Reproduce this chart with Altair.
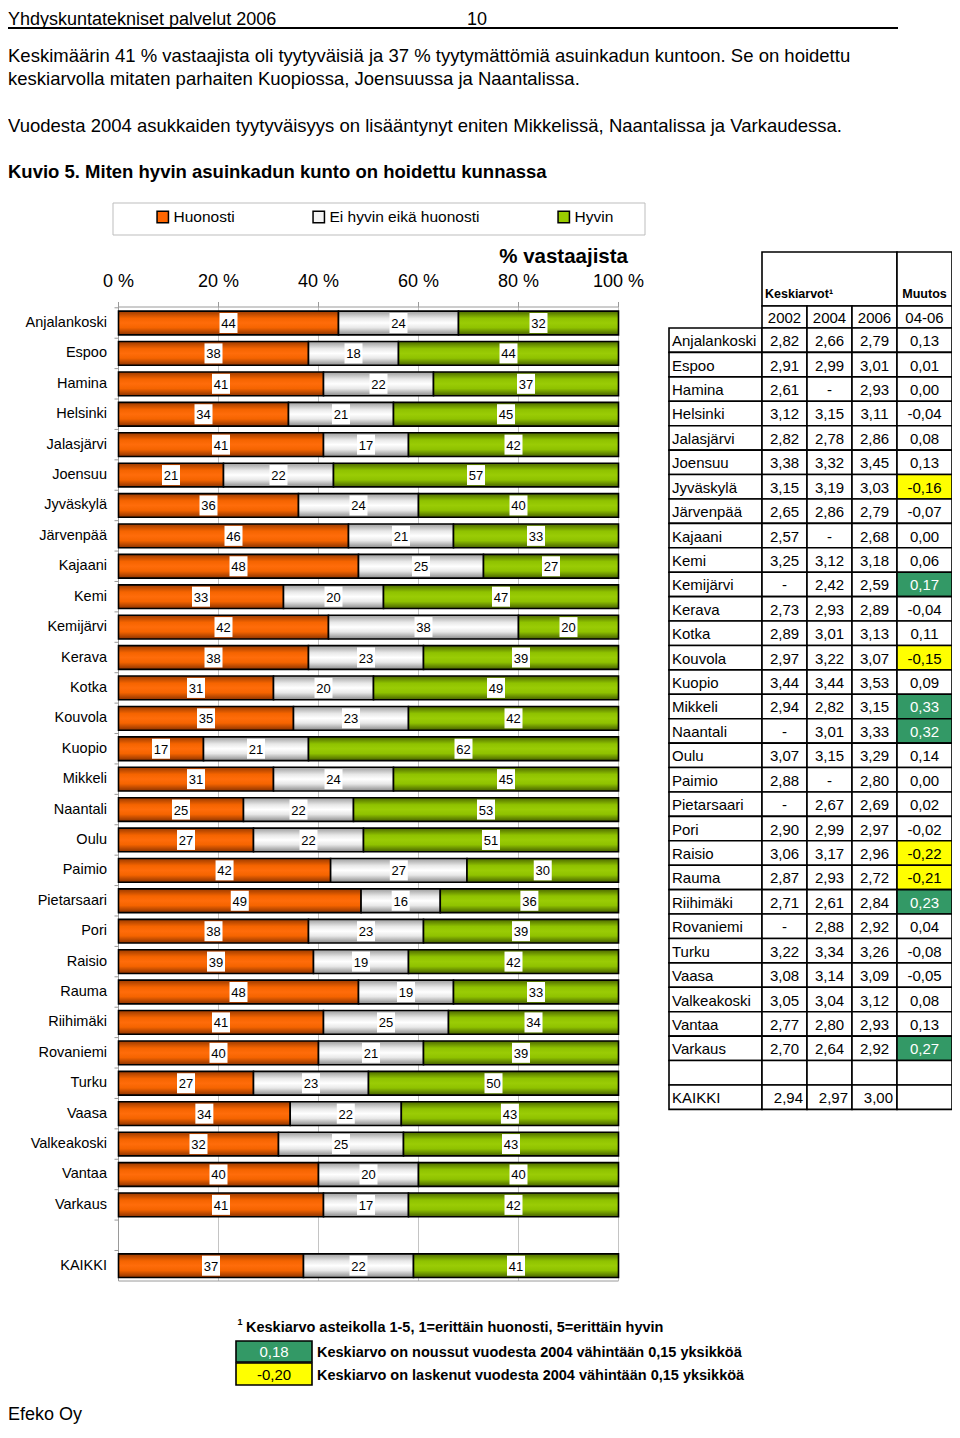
import altair as alt
import pandas as pd

# ---------------- data ----------------
CITIES = ["Anjalankoski", "Espoo", "Hamina", "Helsinki", "Jalasjärvi", "Joensuu", "Jyväskylä",
          "Järvenpää", "Kajaani", "Kemi", "Kemijärvi", "Kerava", "Kotka", "Kouvola", "Kuopio",
          "Mikkeli", "Naantali", "Oulu", "Paimio", "Pietarsaari", "Pori", "Raisio", "Rauma",
          "Riihimäki", "Rovaniemi", "Turku", "Vaasa", "Valkeakoski", "Vantaa", "Varkaus"]
TOTAL_LABEL = "KAIKKI"
CATEGORIES = ["Huonosti", "Ei hyvin eikä huonosti", "Hyvin"]
HUONOSTI = [44, 38, 41, 34, 41, 21, 36, 46, 48, 33, 42, 38, 31, 35, 17, 31, 25, 27, 42, 49,
            38, 39, 48, 41, 40, 27, 34, 32, 40, 41]
NEUTRAALI = [24, 18, 22, 21, 17, 22, 24, 21, 25, 20, 38, 23, 20, 23, 21, 24, 22, 22, 27, 16,
             23, 19, 19, 25, 21, 23, 22, 25, 20, 17]
HYVIN = [32, 44, 37, 45, 42, 57, 40, 33, 27, 47, 20, 39, 49, 42, 62, 45, 53, 51, 30, 36,
         39, 42, 33, 34, 39, 50, 43, 43, 40, 42]
TOTAL_SHARES = [37, 22, 41]
TICKS = [0, 20, 40, 60, 80, 100]
TICK_LABELS = ["0 %", "20 %", "40 %", "60 %", "80 %", "100 %"]

Y2002 = [2.82, 2.91, 2.61, 3.12, 2.82, 3.38, 3.15, 2.65, 2.57, 3.25, None, 2.73, 2.89, 2.97, 3.44,
         2.94, None, 3.07, 2.88, None, 2.90, 3.06, 2.87, 2.71, None, 3.22, 3.08, 3.05, 2.77, 2.70]
Y2004 = [2.66, 2.99, None, 3.15, 2.78, 3.32, 3.19, 2.86, None, 3.12, 2.42, 2.93, 3.01, 3.22, 3.44,
         2.82, 3.01, 3.15, None, 2.67, 2.99, 3.17, 2.93, 2.61, 2.88, 3.34, 3.14, 3.04, 2.80, 2.64]
Y2006 = [2.79, 3.01, 2.93, 3.11, 2.86, 3.45, 3.03, 2.79, 2.68, 3.18, 2.59, 2.89, 3.13, 3.07, 3.53,
         3.15, 3.33, 3.29, 2.80, 2.69, 2.97, 2.96, 2.72, 2.84, 2.92, 3.26, 3.09, 3.12, 2.93, 2.92]
MUUTOS = [0.13, 0.01, 0.00, -0.04, 0.08, 0.13, -0.16, -0.07, 0.00, 0.06, 0.17, -0.04, 0.11, -0.15,
          0.09, 0.33, 0.32, 0.14, 0.00, 0.02, -0.02, -0.22, -0.21, 0.23, 0.04, -0.08, -0.05, 0.08,
          0.13, 0.27]
TOTAL_MEANS = [2.94, 2.97, 3.00]
YEARS = ["2002", "2004", "2006", "04-06"]

# ---------------- layout ----------------
OFF = 8
def P(v):  # page pixel -> view pixel
    return v - OFF

SANS = "Liberation Sans, Arial, sans-serif"
W, H = 944, 1416

BAR_ROWS = CITIES + [" ", TOTAL_LABEL]
XS = alt.Scale(domain=[0, 100], range=[P(118.5), P(618.5)], nice=False, zero=False)
YS = alt.Scale(domain=BAR_ROWS, range=[P(307.8), P(1280.9)], paddingInner=0.22, paddingOuter=0.11)

# ---------------- bar data ----------------
rows = []
for c, a, b, d in zip(CITIES + [TOTAL_LABEL], HUONOSTI + [TOTAL_SHARES[0]],
                      NEUTRAALI + [TOTAL_SHARES[1]], HYVIN + [TOTAL_SHARES[2]]):
    for i, (k, v) in enumerate(zip(CATEGORIES, [a, b, d])):
        rows.append({"city": c, "cat": k, "order": i, "value": v})
bar_df = pd.DataFrame(rows)

base = alt.Chart(bar_df).transform_stack(
    stack="value", groupby=["city"], as_=["lo", "hi"], offset="normalize",
    sort=[alt.SortField("order", order="ascending")]
).transform_calculate(
    lo100="datum.lo*100", hi100="datum.hi*100", mid="(datum.lo+datum.hi)*50",
    bl="(datum.lo+datum.hi)*50-1.8", br="(datum.lo+datum.hi)*50+1.8"
)

ENC_Y = alt.Y("city:N", scale=YS, axis=None)

legend_bars = base.mark_bar().encode(
    x=alt.X("lo100:Q", scale=XS, axis=None), x2="hi100:Q", y=ENC_Y,
    color=alt.Color("cat:N", scale=alt.Scale(domain=CATEGORIES, range=["#FF6600", "#F4F4F4", "#99CC00"]),
                    legend=alt.Legend(title=None, orient="none", legendX=P(155), legendY=P(209),
                                      direction="horizontal", symbolType="square", symbolSize=130,
                                      symbolStrokeColor="black", symbolStrokeWidth=1.5,
                                      labelFont=SANS, labelFontSize=15.5, labelColor="black",
                                      labelLimit=400, columnPadding=75, labelOffset=3, padding=0,
                                      symbolOpacity=1))
)

def grad(edge1, mid1, mid, edge2):
    return {"gradient": "linear", "x1": 0, "x2": 0, "y1": 0, "y2": 1,
            "stops": [{"offset": 0, "color": edge1}, {"offset": 0.3, "color": mid1},
                      {"offset": 0.5, "color": mid}, {"offset": 0.7, "color": mid1},
                      {"offset": 1, "color": edge2}]}

GRADS = [grad("#9A3A00", "#F56400", "#FF6C0A", "#8C3300"),
         grad("#9C9C9C", "#E8E8E8", "#FFFFFF", "#8A8A8A"),
         grad("#4C6800", "#8FC200", "#9ACC05", "#466000")]

grad_layers = []
for k, g in zip(CATEGORIES, GRADS):
    grad_layers.append(
        base.transform_filter(alt.datum.cat == k).mark_bar(fill=g, stroke="black", strokeWidth=1.6).encode(
            x=alt.X("lo100:Q", scale=XS, axis=None), x2="hi100:Q", y=ENC_Y)
    )

label_boxes = base.mark_bar(color="white", height=20).encode(
    x=alt.X("bl:Q", scale=XS, axis=None), x2="br:Q", y=ENC_Y)
label_text = base.mark_text(font=SANS, fontSize=13, color="black", baseline="middle", dy=1).encode(
    x=alt.X("mid:Q", scale=XS, axis=None), y=ENC_Y, text=alt.Text("value:Q"))

# axes drawn from the scales
tick_df = pd.DataFrame({"v": TICKS, "label": TICK_LABELS})
grid = alt.Chart(tick_df).transform_filter(alt.datum.v > 0).mark_rule(color="#C4C4C4", strokeWidth=1).encode(
    x=alt.X("v:Q", scale=XS, axis=None), y=alt.value(P(307)), y2=alt.value(P(1281)))
top_ticks = alt.Chart(tick_df).mark_rule(color="#9A9A9A", strokeWidth=1).encode(
    x=alt.X("v:Q", scale=XS, axis=None), y=alt.value(P(302)), y2=alt.value(P(307)))
tick_labels = alt.Chart(tick_df).mark_text(font=SANS, fontSize=18, color="black", baseline="alphabetic").encode(
    x=alt.X("v:Q", scale=XS, axis=None), y=alt.value(P(287)), text="label:N")
span_df = pd.DataFrame({"a": [0], "b": [100]})
top_line = alt.Chart(span_df).mark_rule(color="#9A9A9A", strokeWidth=1).encode(
    x=alt.X("a:Q", scale=XS, axis=None), x2="b:Q", y=alt.value(P(307)))
bottom_line = alt.Chart(span_df).mark_rule(color="#9A9A9A", strokeWidth=1).encode(
    x=alt.X("a:Q", scale=XS, axis=None), x2="b:Q", y=alt.value(P(1281)))
y_line = alt.Chart(span_df).mark_rule(color="#9A9A9A", strokeWidth=1).encode(
    x=alt.X("a:Q", scale=XS, axis=None), y=alt.value(P(307)), y2=alt.value(P(1281)))
row_df = pd.DataFrame({"city": BAR_ROWS})
y_ticks = alt.Chart(row_df).mark_rule(color="#9A9A9A", strokeWidth=1, yOffset=-3.35).encode(
    y=alt.Y("city:N", scale=YS, axis=None, bandPosition=0), x=alt.value(P(114.5)), x2=alt.value(P(118.5)))
city_labels = alt.Chart(pd.DataFrame({"city": CITIES + [TOTAL_LABEL]})).mark_text(
    font=SANS, fontSize=14.5, align="right", baseline="middle", dy=0, color="black").encode(
    y=ENC_Y, x=alt.value(P(107)), text="city:N")

# ---------------- table ----------------
COL_W = [93, 45, 45, 45, 55]
edges = [0]
for w in COL_W:
    edges.append(edges[-1] + w)
TX = alt.Scale(domain=[0, edges[-1]], range=[P(669), P(669) + edges[-1]], nice=False, zero=False)
TY = alt.Scale(domain=[0, 32], range=[P(328), P(1109.4)], nice=False, zero=False)

def fmt(v):
    return "-" if v is None else f"{v:.2f}".replace(".", ",")

cells = []
def add(col0, col1, r0, r1, text="", halign="center", fill="white", tcolor="black", weight="normal",
        ymid=None, size=15):
    x0, x1 = edges[col0], edges[col1]
    xt = {"left": x0 + 3, "center": (x0 + x1) / 2, "right": x1 - 4}[halign]
    cells.append({"x0": x0, "x1": x1, "r0": r0, "r1": r1, "label": text, "halign": halign,
                  "fillc": fill, "tcolor": tcolor, "wt": weight,
                  "xt": xt, "yt": (r0 + r1) / 2 if ymid is None else ymid, "fsize": size})

add(1, 4, -3.11, -0.9, "Keskiarvot¹", halign="left", weight="bold", ymid=-1.45, size=12.5)
add(4, 5, -3.11, -0.9, "Muutos", halign="center", weight="bold", ymid=-1.45, size=12.5)
for j, yname in enumerate(YEARS):
    add(1 + j, 2 + j, -0.9, 0, yname)
for i, c in enumerate(CITIES):
    add(0, 1, i, i + 1, c, halign="left")
    for j, arr in enumerate([Y2002, Y2004, Y2006]):
        add(1 + j, 2 + j, i, i + 1, fmt(arr[i]))
    m = MUUTOS[i]
    fill, tc = "white", "black"
    if m >= 0.15:
        fill, tc = "#339966", "white"
    elif m <= -0.15:
        fill, tc = "#FFFF00", "black"
    add(4, 5, i, i + 1, fmt(m), fill=fill, tcolor=tc)
for j in range(5):
    add(j, j + 1, 30, 31, "")
add(0, 1, 31, 32, TOTAL_LABEL, halign="left")
for j in range(3):
    add(1 + j, 2 + j, 31, 32, fmt(TOTAL_MEANS[j]), halign="right")
add(4, 5, 31, 32, "")
cell_df = pd.DataFrame(cells)

table_rects = alt.Chart(cell_df).mark_rect(stroke="black", strokeWidth=1.6).encode(
    x=alt.X("x0:Q", scale=TX, axis=None), x2="x1:Q",
    y=alt.Y("r0:Q", scale=TY, axis=None), y2="r1:Q",
    fill=alt.Fill("fillc:N", scale=None))

table_texts = []
for al in ["left", "center", "right"]:
    for wt in ["normal", "bold"]:
        sub = cell_df[(cell_df["halign"] == al) & (cell_df["wt"] == wt) & (cell_df["label"] != "")]
        if len(sub) == 0:
            continue
        size = float(sub["fsize"].iloc[0])
        table_texts.append(alt.Chart(sub).mark_text(
            align=al, baseline="middle", dy=1, font=SANS, fontSize=size, fontWeight=wt).encode(
            x=alt.X("xt:Q", scale=TX, axis=None), y=alt.Y("yt:Q", scale=TY, axis=None),
            text="label:N", color=alt.Color("tcolor:N", scale=None)))

# ---------------- page texts / decorations ----------------
one = pd.DataFrame({"a": [0]})
def txt(t, x, y, size, font=SANS, weight="normal", align="left", color="black"):
    return alt.Chart(pd.DataFrame({"t": [t]})).mark_text(
        align=align, baseline="alphabetic", font=font, fontSize=size, fontWeight=weight, color=color).encode(
        x=alt.value(x), y=alt.value(y), text="t:N")

def box(x0, x1, y0, y1, fill, stroke, sw=1.0):
    return alt.Chart(one).mark_rect(fill=fill, stroke=stroke, strokeWidth=sw).encode(
        x=alt.value(x0), x2=alt.value(x1), y=alt.value(y0), y2=alt.value(y1))

page = [
    txt("Yhdyskuntatekniset palvelut 2006", 0, P(24.5), 18),
    txt("10", P(467), P(24.5), 18),
    alt.Chart(one).mark_rule(color="black", strokeWidth=2).encode(
        x=alt.value(0), x2=alt.value(P(898)), y=alt.value(P(28))),
    txt("Keskimäärin  41 % vastaajista oli tyytyväisiä ja 37 % tyytymättömiä asuinkadun kuntoon. Se on hoidettu",
        0, P(61.5), 18.5),
    txt("keskiarvolla mitaten parhaiten Kuopiossa, Joensuussa ja Naantalissa.", 0, P(84.5), 18.5),
    txt("Vuodesta 2004 asukkaiden tyytyväisyys on lisääntynyt eniten Mikkelissä, Naantalissa ja Varkaudessa.",
        0, P(131.5), 18.5),
    txt("Kuvio 5. Miten hyvin asuinkadun kunto on hoidettu kunnassa", 0, P(177.5), 18.5, weight="bold"),
    txt("% vastaajista", P(628), P(263), 20.5, weight="bold", align="right"),
    txt("1", P(237.5), P(1325), 9, weight="bold"),
    txt("Keskiarvo asteikolla 1-5, 1=erittäin huonosti, 5=erittäin hyvin", P(246), P(1332), 14.5, weight="bold"),
    box(P(236), P(312), P(1341), P(1362), "#339966", "black", 1.6),
    box(P(236), P(312), P(1363), P(1385), "#FFFF00", "black", 1.6),
    txt("0,18", P(274), P(1357), 15, align="center", color="white"),
    txt("-0,20", P(274), P(1379.5), 15, align="center"),
    txt("Keskiarvo on noussut vuodesta 2004 vähintään 0,15 yksikköä", P(317), P(1356.5), 14.5, weight="bold"),
    txt("Keskiarvo on laskenut vuodesta 2004 vähintään 0,15 yksikköä", P(317), P(1379.5), 14.5, weight="bold"),
    txt("Efeko Oy", 0, P(1420), 18),
]

legend_frame = box(P(113), P(645), P(203), P(235), "white", "#BDBDBD", 1.0)

layers = [legend_frame, grid, top_line, bottom_line, y_line, y_ticks, top_ticks,
          legend_bars] + grad_layers + [label_boxes, label_text, city_labels, tick_labels,
          table_rects] + table_texts + page

chart = alt.layer(*layers).resolve_scale(
    x="independent", y="independent", color="independent"
).properties(
    width=W, height=H, autosize=alt.AutoSizeParams(type="none"), padding=0, background="white"
).configure_view(stroke=None)

chart.save("out.html", embed_options={"renderer": "svg", "actions": False})
